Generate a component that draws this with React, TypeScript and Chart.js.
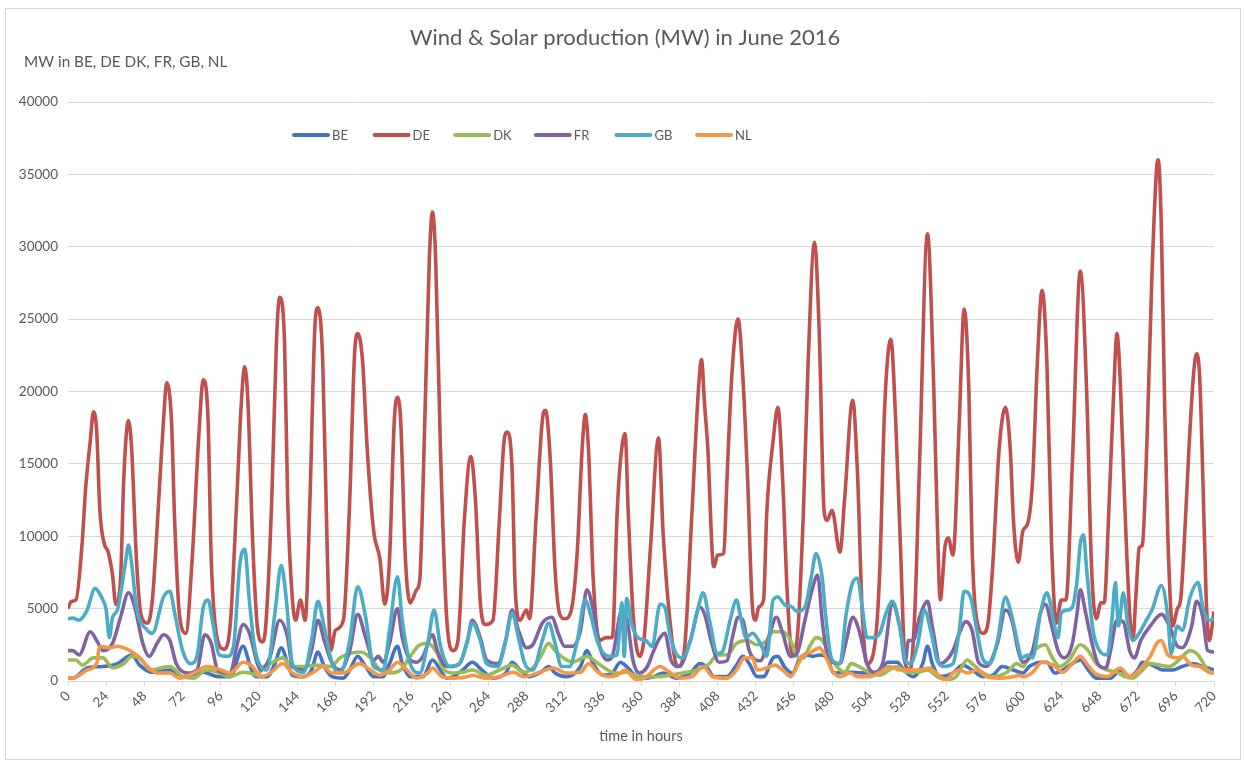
import React, { useEffect, useRef } from "react";
import { Chart, registerables } from "chart.js";

Chart.register(...registerables);

// ---- Data: [hour, MW] samples ----
const SERIES_NAMES = ["BE", "DE", "DK", "FR", "GB", "NL"];
const SERIES_COLORS = ["#4472C4", "#C0504D", "#9BBB59", "#8064A2", "#4BACC6", "#F79646"];

const BE: [number, number][] = [
  [0,200],[3,200],[12,900],[22,1000],[31,1200],[40,1800],[45,1100],[53,600],[64,760],[72,300],[85,600],[94,300],
  [102,300],[110,2400],[114,1200],[116,550],[119,300],[125,300],[130,1200],[134,2300],[138,1200],[141,400],[148,300],
  [153,760],[157,2000],[161,1000],[166,300],[173,200],[177,760],[182,1700],[187,1000],[192,300],[198,300],[202,1200],
  [207,2400],[210,1200],[215,300],[223,300],[229,1450],[234,760],[238,200],[242,300],[248,760],[254,1300],[260,760],
  [267,200],[275,550],[279,1300],[284,760],[290,300],[297,600],[302,1000],[306,550],[313,300],[322,1000],[326,2100],
  [330,1200],[336,400],[342,550],[347,1300],[351,1000],[357,300],[361,200],[368,300],[374,550],[382,200],[391,550],
  [397,1200],[401,1000],[406,300],[414,300],[420,1100],[424,1700],[428,1200],[433,300],[437,300],[443,1600],[446,1700],
  [450,1000],[455,550],[460,1600],[464,1800],[468,1700],[472,1800],[477,1600],[481,550],[487,600],[493,600],[502,550],
  [510,600],[515,1300],[521,1300],[525,760],[531,300],[537,1200],[540,2400],[543,1200],[548,300],[556,550],[562,1100],
  [568,760],[575,300],[581,400],[587,1000],[594,760],[600,550],[604,1000],[611,1300],[615,1300],[620,550],[625,760],
  [631,1200],[636,1450],[641,760],[646,200],[655,200],[661,760],[667,300],[672,760],[675,1300],[681,1100],[688,760],
  [694,760],[700,1000],[707,1200],[713,1000],[720,760]
];

const DE: [number, number][] = [
  [0,5000],[2,5500],[5,5600],[9,9700],[11,13200],[14,16600],[16,18600],[18,17300],[20,11800],[23,9400],[25,9000],
  [28,7300],[30,5300],[33,7000],[35,13900],[38,18000],[40,16000],[43,8400],[46,4500],[50,4000],[53,5600],[57,12500],
  [60,18000],[62,20600],[65,18000],[67,11100],[70,4600],[74,3300],[78,8400],[82,16600],[85,20800],[88,18000],[90,8400],
  [94,2800],[98,2200],[102,4000],[106,12500],[109,19400],[111,21700],[113,19400],[116,9700],[119,3700],[122,2700],
  [124,3500],[128,12500],[131,23600],[133,26500],[136,23600],[138,12500],[141,5600],[143,4200],[146,5600],[149,4200],
  [152,12500],[155,24200],[157,25800],[160,22200],[163,8400],[165,2100],[168,3500],[173,4200],[177,12500],[180,22500],
  [182,24000],[185,22200],[188,16000],[192,10400],[196,8400],[199,5300],[202,8400],[205,18000],[207,19600],[209,18000],
  [212,8400],[215,5400],[219,6300],[221,7000],[224,17300],[227,29100],[229,32400],[231,29100],[234,16000],[238,4200],
  [242,2100],[245,2800],[249,11100],[253,15500],[256,12500],[259,5500],[262,3900],[267,4200],[271,11100],[274,16600],
  [276,17200],[279,14600],[281,6300],[284,4200],[288,4900],[290,4300],[294,11100],[298,18000],[300,18700],[303,15300],
  [306,7700],[309,4600],[312,4300],[316,4800],[320,9000],[323,16000],[325,18400],[327,16000],[330,7000],[334,2800],
  [338,3000],[342,3000],[345,11600],[347,15100],[350,17100],[352,11600],[355,4700],[359,1700],[362,3000],[366,9300],
  [371,16800],[374,10000],[380,2400],[383,1000],[387,1900],[392,11600],[396,20000],[398,22200],[400,19000],[402,16000],
  [405,8400],[406,7900],[408,8700],[412,8800],[414,13900],[417,21000],[421,25000],[424,21000],[427,13900],[430,5100],
  [432,4200],[434,5100],[437,5600],[439,11600],[443,16600],[446,18900],[449,13900],[452,5800],[455,1900],[458,2800],
  [462,11600],[465,22000],[469,30300],[472,24000],[475,11800],[477,11100],[480,11800],[485,8900],[488,12700],[493,19400],
  [496,14400],[499,4700],[502,1200],[507,2600],[510,7600],[513,18700],[517,23600],[520,18000],[523,9300],[526,1200],
  [529,760],[532,4700],[535,15000],[540,30900],[544,20000],[546,11600],[548,5600],[551,9300],[553,9900],[556,8700],
  [560,18000],[563,25700],[566,20000],[568,9300],[572,3700],[575,3300],[578,4000],[581,8000],[585,16000],[589,18900],
  [592,16000],[594,11100],[597,8200],[600,10400],[603,10900],[606,13800],[609,22000],[612,27000],[615,22000],[618,9300],
  [621,4000],[624,5600],[627,5600],[631,15000],[636,28300],[640,20000],[643,8000],[646,4300],[649,5400],[651,5400],
  [654,12000],[657,20000],[659,24000],[661,21000],[664,12000],[667,4700],[669,2800],[671,6000],[673,9200],[675,9400],
  [678,17000],[681,28000],[684,35500],[685,36000],[687,31000],[689,19000],[691,10000],[694,3800],[697,5000],[699,5600],
  [702,11000],[704,15500],[707,21000],[709,22600],[711,21000],[713,14000],[715,6000],[717,2800],[720,4800]
];

const DK: [number, number][] = [
  [0,1450],[5,1450],[9,1100],[16,1600],[22,1600],[28,900],[35,1200],[40,1700],[45,1600],[52,760],[58,900],[64,1000],
  [72,300],[79,200],[87,760],[94,600],[102,300],[110,600],[114,550],[119,400],[123,1000],[127,1200],[135,1600],[141,1000],
  [148,1000],[156,1100],[165,1000],[171,1600],[177,1900],[184,2000],[190,1600],[196,760],[202,550],[209,760],[215,1700],
  [221,2500],[226,2600],[232,1900],[236,800],[242,550],[248,600],[254,760],[263,400],[271,760],[279,1100],[286,600],
  [292,900],[297,1700],[302,2600],[306,2100],[311,1600],[317,1300],[326,1700],[332,1300],[339,760],[345,550],[351,600],
  [359,300],[363,300],[370,300],[378,400],[386,550],[395,760],[403,1200],[408,1800],[414,1800],[420,2600],[427,2800],
  [433,2500],[439,2800],[443,3400],[449,3400],[454,2800],[458,1700],[462,1600],[466,2400],[470,3000],[474,2800],
  [478,1900],[483,1000],[488,600],[492,1200],[497,1000],[504,550],[510,400],[516,760],[521,1000],[527,600],[533,600],
  [540,760],[546,300],[552,100],[558,300],[565,1450],[568,1200],[575,550],[581,300],[590,600],[596,1200],[600,1000],
  [604,1700],[609,2300],[614,2500],[618,1700],[623,1000],[629,1450],[636,2500],[641,2100],[646,1200],[653,760],
  [659,600],[664,300],[669,200],[675,760],[680,1200],[686,1100],[692,1000],[698,1450],[705,2100],[710,1800],[716,760],
  [720,550]
];

const FR: [number, number][] = [
  [0,2100],[3,2100],[7,1800],[14,3400],[18,2800],[22,2100],[28,2600],[33,4400],[38,6100],[42,5100],[47,2600],[51,1700],
  [56,2600],[60,3200],[64,2800],[68,1200],[75,550],[81,760],[86,3200],[90,2600],[94,760],[102,550],[106,2400],[110,3900],
  [114,3300],[119,1200],[121,760],[127,1700],[133,4200],[138,3000],[141,1000],[148,760],[153,2100],[157,4200],[161,2800],
  [166,1200],[171,760],[177,2100],[182,4600],[187,3000],[192,1450],[195,1700],[198,1300],[202,2600],[207,5000],[210,3000],
  [215,1450],[219,1300],[223,1700],[229,3200],[232,2100],[238,1000],[240,1000],[246,1200],[251,2800],[254,4200],
  [259,3000],[263,1450],[270,1200],[275,2800],[279,4900],[283,3500],[288,2300],[292,2500],[298,4000],[304,4400],
  [308,3300],[312,2400],[317,2400],[322,3500],[326,6300],[330,4900],[334,2400],[339,1450],[342,1700],[348,4900],
  [351,4400],[355,1400],[359,550],[364,1000],[368,2100],[372,3000],[375,3300],[379,1400],[384,1000],[391,2800],
  [397,5100],[400,4600],[404,2800],[409,1300],[414,1400],[418,3300],[421,4400],[424,4200],[428,2100],[435,1400],
  [441,3300],[445,4400],[449,3300],[454,1700],[458,1900],[463,4200],[467,6100],[471,7300],[474,4000],[478,1450],
  [485,1200],[489,2800],[493,4400],[497,3500],[502,1200],[506,600],[512,1300],[518,5300],[523,3500],[526,1300],
  [528,2800],[531,2800],[535,4400],[540,5500],[543,3800],[548,1200],[552,1450],[556,2100],[560,3300],[564,4100],
  [568,3500],[572,1300],[577,1000],[584,2600],[589,4900],[593,4200],[597,2100],[600,1300],[606,2100],[611,4700],
  [614,5300],[618,3800],[622,2100],[626,1600],[631,2600],[634,4700],[636,6300],[639,4900],[643,2800],[647,1200],
  [652,900],[655,2100],[659,4200],[663,4100],[667,2100],[670,1600],[674,2800],[680,3800],[687,4600],[692,3800],
  [697,2400],[700,2300],[706,3800],[709,5500],[713,4400],[716,2100],[720,2000]
];

const GB: [number, number][] = [
  [0,4300],[3,4350],[7,4200],[12,4900],[17,6400],[21,5800],[24,4900],[26,3000],[28,4400],[31,4900],[36,8100],[38,9400],
  [40,8100],[43,5100],[50,3500],[53,3300],[60,5800],[64,6200],[67,4700],[72,2100],[77,1200],[81,1700],[85,5100],
  [88,5600],[91,4000],[95,1800],[100,1700],[104,2400],[108,8100],[111,9100],[114,5500],[117,2500],[120,1200],[125,760],
  [130,4700],[134,8000],[137,5800],[141,1200],[148,600],[153,2800],[157,5500],[161,3700],[166,1200],[171,550],[177,2800],
  [182,6500],[187,4400],[192,1000],[198,760],[202,3500],[207,7200],[210,4200],[215,1200],[221,550],[226,2600],[230,4900],
  [234,2400],[240,1000],[246,1200],[251,2800],[254,4000],[259,2800],[263,1200],[270,1000],[275,2800],[279,4700],
  [283,3000],[287,1200],[292,760],[298,2800],[302,4000],[306,2600],[310,1000],[315,1000],[320,2800],[325,5600],
  [328,4700],[333,2600],[340,1700],[345,1800],[348,5400],[349.5,1700],[351,5700],[354,4000],[358,3000],[363,2800],
  [367,2400],[372,5300],[375,5100],[378,3300],[382,1900],[386,1600],[391,2800],[396,5100],[399,6100],[403,4200],
  [408,1900],[411,2000],[416,4200],[420,5600],[423,4200],[426,3000],[430,3300],[435,2600],[439,1700],[443,5600],
  [446,5800],[450,5300],[455,5100],[458,4800],[463,5100],[467,7200],[470,8800],[474,7000],[476,4500],[480,1450],
  [485,1200],[489,4700],[493,6800],[496,7100],[499,5100],[502,3000],[506,3000],[510,3300],[514,4700],[518,5500],
  [523,3500],[526,1450],[529,1200],[534,2600],[538,4900],[542,3500],[546,1450],[550,1000],[556,1200],[560,3500],
  [563,6200],[567,5800],[571,3500],[575,1450],[579,1200],[584,2800],[589,5800],[591,5300],[594,4000],[597,2400],
  [599,1600],[603,1800],[606,1600],[611,4700],[615,6100],[618,4900],[620,3700],[622,3000],[624,4700],[628,4900],
  [631,5100],[634,7000],[636,9500],[638,10100],[640,7700],[644,3500],[648,2100],[653,1800],[656,4400],[658,6800],
  [660,3800],[663,6100],[666,3800],[669,2800],[673,3300],[677,4100],[681,4900],[687,6600],[691,4400],[693,1900],
  [697,3800],[700,3500],[705,5800],[710,6800],[713,5100],[717,4200],[720,4300]
];

const NL: [number, number][] = [
  [0,200],[3,200],[12,760],[18,1200],[20,2400],[26,2300],[31,2400],[37,2200],[43,1800],[50,1000],[56,550],[64,550],
  [70,200],[79,550],[87,1000],[96,760],[102,550],[110,1300],[116,1000],[121,300],[127,550],[135,1200],[141,550],[148,300],
  [154,600],[160,1000],[166,550],[173,550],[183,1200],[190,760],[196,400],[202,760],[207,1300],[213,760],[219,200],
  [226,550],[229,900],[235,300],[242,200],[251,300],[254,400],[263,200],[271,300],[280,600],[286,300],[295,550],
  [305,900],[313,550],[322,600],[327,1200],[333,600],[339,300],[345,400],[350,760],[357,100],[362,200],[372,1000],
  [378,600],[384,200],[392,300],[399,1000],[405,300],[414,200],[420,760],[425,1600],[430,1600],[433,760],[439,900],
  [444,1100],[449,760],[454,300],[458,1000],[462,1800],[467,2000],[472,2300],[477,1450],[480,760],[485,300],[491,550],
  [496,300],[504,300],[510,600],[516,1000],[523,760],[529,760],[535,760],[541,900],[548,300],[552,100],[556,550],
  [560,760],[565,550],[571,760],[577,300],[585,200],[594,300],[598,400],[600,300],[606,600],[612,1300],[619,1100],
  [625,600],[631,1200],[636,1700],[640,1200],[645,550],[653,300],[661,900],[667,300],[673,760],[680,1700],[684,2600],
  [687,2800],[691,1800],[697,1600],[700,1700],[706,1100],[711,1000],[717,600],[720,550]
];

const SERIES_DATA = [BE, DE, DK, FR, GB, NL];

const TITLE = "Wind & Solar production (MW) in June 2016";
const Y_TITLE = "MW in BE, DE DK, FR, GB, NL";
const X_TITLE = "time in hours";

const FONT = "Lato";
const TEXT_COLOR = "#595959";

const overlayPlugin = {
  id: "overlayText",
  afterDraw(chart: any) {
    const ctx = chart.ctx as CanvasRenderingContext2D;
    ctx.save();
    // main title
    ctx.fillStyle = TEXT_COLOR;
    ctx.font = `22px ${FONT}`;
    ctx.textAlign = "center";
    ctx.textBaseline = "middle";
    ctx.fillText(TITLE, 625, 38);
    // y title (horizontal, top-left)
    ctx.font = `15.3px ${FONT}`;
    ctx.textAlign = "left";
    ctx.fillText(Y_TITLE, 24, 62);
    // inline legend
    const ly = 135;
    let lx = 292;
    ctx.font = `13px ${FONT}`;
    SERIES_NAMES.forEach((name, i) => {
      ctx.strokeStyle = SERIES_COLORS[i];
      ctx.lineWidth = 4;
      ctx.lineCap = "round";
      ctx.beginPath();
      ctx.moveTo(lx + 2, ly);
      ctx.lineTo(lx + 36, ly);
      ctx.stroke();
      ctx.fillStyle = TEXT_COLOR;
      ctx.fillText(name, lx + 40, ly + 1);
      lx += 80.6;
    });
    ctx.restore();
  },
};

export default function App() {
  const canvasRef = useRef<HTMLCanvasElement | null>(null);

  useEffect(() => {
    if (!canvasRef.current) return;
    const datasets = SERIES_NAMES.map((name, i) => ({
      label: name,
      data: SERIES_DATA[i].map(([x, y]) => ({ x, y })),
      borderColor: SERIES_COLORS[i],
      backgroundColor: SERIES_COLORS[i],
      borderWidth: 3.6,
      pointRadius: 0,
      cubicInterpolationMode: "monotone" as const,
      fill: false,
      order: SERIES_NAMES.length - i,
    }));

    const chart = new Chart(canvasRef.current, {
      type: "line",
      data: { datasets },
      options: {
        animation: false,
        responsive: false,
        devicePixelRatio: 1,
        layout: { padding: { left: 0, top: 102, right: 31, bottom: 19 } },
        plugins: {
          legend: { display: false },
          title: { display: false },
          tooltip: { enabled: false },
        },
        scales: {
          x: {
            type: "linear",
            min: 0,
            max: 720,
            ticks: {
              stepSize: 24,
              autoSkip: false,
              maxRotation: 45,
              minRotation: 45,
              color: TEXT_COLOR,
              font: { family: FONT, size: 13.5 },
              padding: 2,
              callback: (v: any) => String(v),
            },
            grid: {
              display: true,
              drawOnChartArea: false,
              drawTicks: true,
              tickLength: 5,
              color: "#d9d9d9",
            },
            border: { display: true, color: "#d9d9d9", width: 1 },
            title: {
              display: true,
              text: X_TITLE,
              color: TEXT_COLOR,
              font: { family: FONT, size: 14.5 },
              padding: { top: 0, bottom: 0 },
            },
            afterFit(scale: any) {
              scale.height = 64;
            },
          },
          y: {
            min: 0,
            max: 40000,
            ticks: {
              stepSize: 5000,
              color: TEXT_COLOR,
              font: { family: FONT, size: 13.5 },
              padding: 10,
              callback: (v: any) => String(v),
            },
            grid: { color: "#d9d9d9", drawTicks: false },
            border: { display: false },
            afterFit(scale: any) {
              scale.width = 68;
            },
          },
        },
      },
      plugins: [overlayPlugin],
    });
    return () => chart.destroy();
  }, []);

  return (
    <div style={{ position: "fixed", left: 0, top: 0, width: 1245, height: 764, background: "#fff" }}>
      <div
        style={{
          position: "absolute",
          left: 5,
          top: 8,
          width: 1236,
          height: 752,
          border: "1px solid #d9d9d9",
          boxSizing: "border-box",
        }}
      />
      <canvas
        ref={canvasRef}
        width={1245}
        height={764}
        style={{ position: "absolute", left: 0, top: 0, display: "block" }}
      />
    </div>
  );
}
